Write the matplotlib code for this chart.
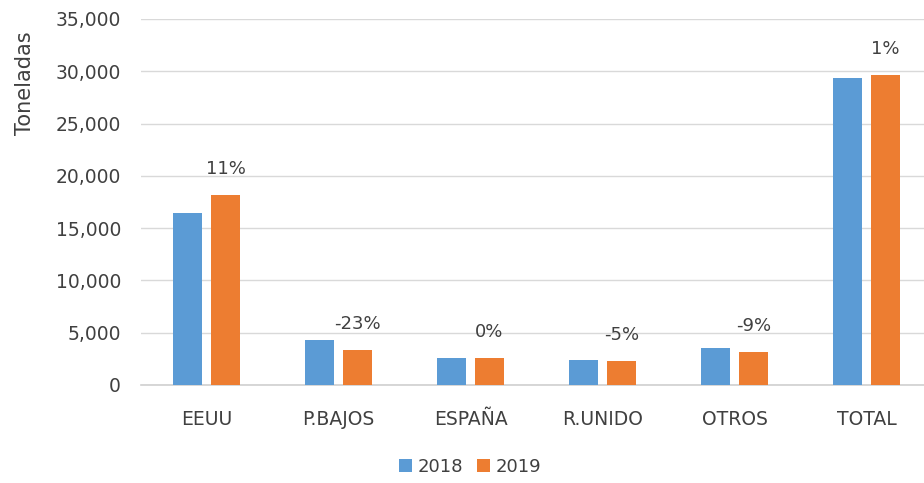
import numpy as np
import matplotlib.pyplot as plt
from matplotlib.ticker import FuncFormatter

# Datos (toneladas)
categorias = ["EEUU", "P.BAJOS", "ESPAÑA", "R.UNIDO", "OTROS", "TOTAL"]
valores_2018 = [16450, 4300, 2560, 2390, 3530, 29350]
valores_2019 = [18200, 3330, 2560, 2250, 3170, 29650]
variacion = ["11%", "-23%", "0%", "-5%", "-9%", "1%"]

azul = "#5B9BD5"
naranja = "#ED7D31"
gris_texto = "#404040"

plt.rcParams['font.family'] = ['DejaVu Sans']

fig = plt.figure(figsize=(9.24, 4.83), dpi=100)
# área del gráfico en píxeles de la imagen original
ax = fig.add_axes([140.5 / 924, 1 - 385 / 483, 792 / 924, (385 - 19) / 483])

x = np.arange(len(categorias))
ancho = 0.22
desp = 0.144
ax.bar(x - desp, valores_2018, ancho, color=azul, label="2018", zorder=3)
ax.bar(x + desp, valores_2019, ancho, color=naranja, label="2019", zorder=3)

# Etiquetas de variación sobre la barra 2019
for xi, v, txt in zip(x, valores_2019, variacion):
    ax.annotate(txt, (xi + desp, v), xytext=(0, 26), textcoords="offset pixels",
                ha="center", va="center", fontsize=13, color=gris_texto)

ax.set_xlim(-0.5, 5.5)
ax.set_ylim(0, 35000)
ax.set_yticks(np.arange(0, 35001, 5000))
ax.yaxis.set_major_formatter(FuncFormatter(lambda v, p: f"{int(v):,}"))
ax.set_xticks(x)
ax.set_xticklabels(categorias)

ax.grid(axis="y", color="#d9d9d9", linewidth=1, zorder=0)
ax.axhline(0, color="#d0d0d0", linewidth=1.2, zorder=2, clip_on=False)
for s in ax.spines.values():
    s.set_visible(False)
ax.tick_params(axis="both", length=0, labelsize=13.5, colors=gris_texto)
ax.tick_params(axis="y", pad=14)
ax.tick_params(axis="x", pad=18)

fig.text(25 / 924, 1 - 83 / 483, "Toneladas", rotation=90, ha="center", va="center",
         fontsize=15, color=gris_texto)

fig.legend(loc="center", bbox_to_anchor=(470 / 924, 1 - 467 / 483), ncol=2, frameon=False,
           fontsize=13, handlelength=0.7, handleheight=0.7, handletextpad=0.3,
           columnspacing=0.8, labelcolor=gris_texto)

fig.savefig("out.png", dpi=100)
